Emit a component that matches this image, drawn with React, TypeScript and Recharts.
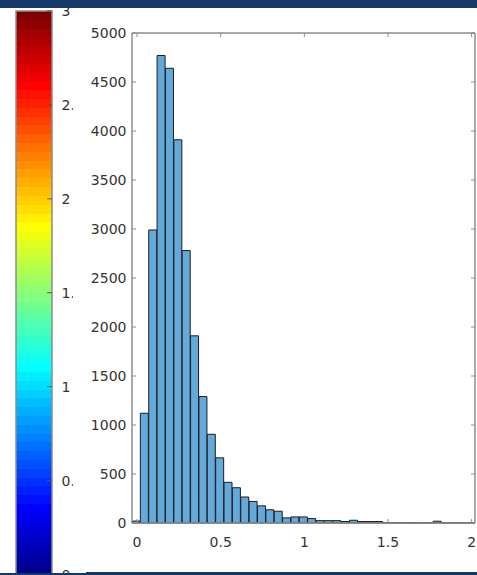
import { Bar, BarChart, XAxis, YAxis } from "recharts";

// histogram bins (centres) and counts
const BIN_CENTERS = [
  0, 0.05, 0.1, 0.15, 0.2, 0.25, 0.3, 0.35, 0.4, 0.45, 0.5, 0.55, 0.6, 0.65, 0.7, 0.75, 0.8, 0.85, 0.9, 0.95,
  1.0, 1.05, 1.1, 1.15, 1.2, 1.25, 1.3, 1.35, 1.4, 1.45, 1.5, 1.55, 1.6, 1.65, 1.7, 1.75, 1.8, 1.85, 1.9, 1.95, 2.0,
];
const COUNTS = [
  20, 1120, 2990, 4770, 4640, 3910, 2780, 1910, 1290, 905, 665, 415, 360, 265, 220, 175, 135, 120, 52, 62,
  62, 45, 24, 24, 24, 15, 28, 15, 15, 15, 3, 2, 2, 2, 1, 3, 18, 2, 1, 2, 3,
];
const X_DOMAIN = [-0.03, 2.02];
const X_TICKS = [0, 0.5, 1, 1.5, 2];
const Y_TICKS = [0, 500, 1000, 1500, 2000, 2500, 3000, 3500, 4000, 4500, 5000];
const CBAR_TICKS = [0, 0.5, 1, 1.5, 2, 2.5, 3];
const CBAR_MAX = 3;

const AXIS = "#8c8c8c";
const TEXT = "#333333";
const FONT = "'DejaVu Sans', sans-serif";
const TICK = 4;

// matlab jet(64), k = 1..64
function jet(k: number) {
  const u = (j: number) => (j < 1 || j > 47 ? 0 : j <= 16 ? j / 16 : j <= 31 ? 1 : (48 - j) / 16);
  const c = (v: number) => Math.round(v * 255);
  return `rgb(${c(u(k - 24))},${c(u(k - 8))},${c(u(k + 8))})`;
}

const histData = BIN_CENTERS.map((bin, i) => ({ bin, count: COUNTS[i] }));
const cbarData = [{ name: "cb", v: CBAR_MAX }];

const BottomTick = ({ x, y, payload }: any) => (
  <g>
    <line x1={x} x2={x} y1={y} y2={y - TICK} stroke={AXIS} />
    <text x={x} y={y + 24} textAnchor="middle" fill={TEXT} fontSize={14} fontFamily={FONT}>
      {String(payload.value)}
    </text>
  </g>
);
const TopTick = ({ x, y }: any) => <line x1={x} x2={x} y1={y} y2={y + TICK} stroke={AXIS} />;
const LeftTick = ({ x, y, payload }: any) => (
  <g>
    <line x1={x} x2={x + TICK} y1={y} y2={y} stroke={AXIS} />
    <text x={x - 5.5} y={y} dy="0.36em" textAnchor="end" fill={TEXT} fontSize={14} fontFamily={FONT}>
      {String(payload.value)}
    </text>
  </g>
);
const RightTick = ({ x, y }: any) => <line x1={x} x2={x - TICK} y1={y} y2={y} stroke={AXIS} />;
const CbarTick = ({ x, y, payload }: any) => (
  <g>
    <line x1={x} x2={x - 5} y1={y} y2={y} stroke="#555" />
    <text x={x + 9.5} y={y} dy="0.36em" textAnchor="start" fill={TEXT} fontSize={14} fontFamily={FONT}>
      {String(payload.value)}
    </text>
  </g>
);

function Colorbar() {
  const stops = [];
  for (let i = 0; i < 64; i++) {
    const col = jet(64 - i);
    stops.push(<stop key={`a${i}`} offset={i / 64} stopColor={col} />);
    stops.push(<stop key={`b${i}`} offset={(i + 1) / 64} stopColor={col} />);
  }
  return (
    <div style={{ position: "absolute", left: 0, top: 0, width: 73, height: 580, overflow: "hidden" }}>
      <BarChart width={74} height={580} data={cbarData} margin={{ top: 11, right: 21, bottom: 5.5, left: 16 }} barCategoryGap={0}>
        <defs>
          <linearGradient id="jet" x1="0" y1="0" x2="0" y2="1">
            {stops}
          </linearGradient>
        </defs>
        <XAxis dataKey="name" hide height={0} />
        <YAxis
          orientation="right"
          width={1}
          type="number"
          domain={[0, CBAR_MAX]}
          ticks={CBAR_TICKS}
          interval={0}
          tickSize={0}
          tickMargin={0}
          tickLine={false}
          axisLine={false}
          tick={(p: any) => <CbarTick {...p} />}
        />
        <Bar dataKey="v" fill="url(#jet)" stroke={AXIS} strokeWidth={1.5} isAnimationActive={false} />
      </BarChart>
    </div>
  );
}

function Histogram() {
  return (
    <div style={{ position: "absolute", left: 80, top: 0 }}>
      <BarChart
        width={397}
        height={560}
        data={histData}
        margin={{ top: 32, right: 1, bottom: 7, left: 0 }}
        barCategoryGap={0}
        barGap={0}
      >
        <XAxis
          xAxisId="num"
          dataKey="bin"
          type="number"
          domain={X_DOMAIN}
          allowDataOverflow
          ticks={X_TICKS}
          interval={0}
          height={30}
          tickSize={0}
          tickMargin={0}
          tickLine={false}
          axisLine={{ stroke: AXIS, strokeWidth: 1.5 }}
          tick={(p: any) => <BottomTick {...p} />}
        />
        <XAxis xAxisId="cat" dataKey="bin" type="category" hide height={0} />
        <XAxis
          xAxisId="top"
          dataKey="bin"
          orientation="top"
          type="number"
          domain={X_DOMAIN}
          allowDataOverflow
          ticks={X_TICKS}
          interval={0}
          height={1}
          tickSize={0}
          tickMargin={0}
          tickLine={false}
          axisLine={{ stroke: AXIS, strokeWidth: 1.5 }}
          tick={(p: any) => <TopTick {...p} />}
        />
        <YAxis
          yAxisId="left"
          type="number"
          domain={[0, 5000]}
          ticks={Y_TICKS}
          interval={0}
          width={52}
          tickSize={0}
          tickMargin={0}
          tickLine={false}
          axisLine={{ stroke: AXIS, strokeWidth: 1.5 }}
          tick={(p: any) => <LeftTick {...p} />}
        />
        <YAxis
          yAxisId="right"
          orientation="right"
          type="number"
          domain={[0, 5000]}
          allowDataOverflow
          ticks={Y_TICKS}
          interval={0}
          width={1}
          tickSize={0}
          tickMargin={0}
          tickLine={false}
          axisLine={{ stroke: AXIS, strokeWidth: 1.5 }}
          tick={(p: any) => <RightTick {...p} />}
        />
        <Bar
          dataKey="count"
          xAxisId="cat"
          yAxisId="left"
          fill="#63a9d9"
          stroke="#1c1c1c"
          strokeWidth={1}
          isAnimationActive={false}
        />
      </BarChart>
    </div>
  );
}

export default function App() {
  return (
    <div
      style={{
        position: "absolute",
        left: 0,
        top: 0,
        width: 477,
        height: 575,
        overflow: "hidden",
        background: "#ffffff",
        fontFamily: FONT,
      }}
    >
      <Colorbar />
      <Histogram />
      <div style={{ position: "absolute", left: 0, top: 0, width: 477, height: 8, background: "#15386a" }} />
      <div style={{ position: "absolute", left: 0, top: 573, width: 86, height: 2, background: "#15386a" }} />
      <div style={{ position: "absolute", left: 86, top: 572, width: 391, height: 3, background: "#15386a" }} />
    </div>
  );
}
